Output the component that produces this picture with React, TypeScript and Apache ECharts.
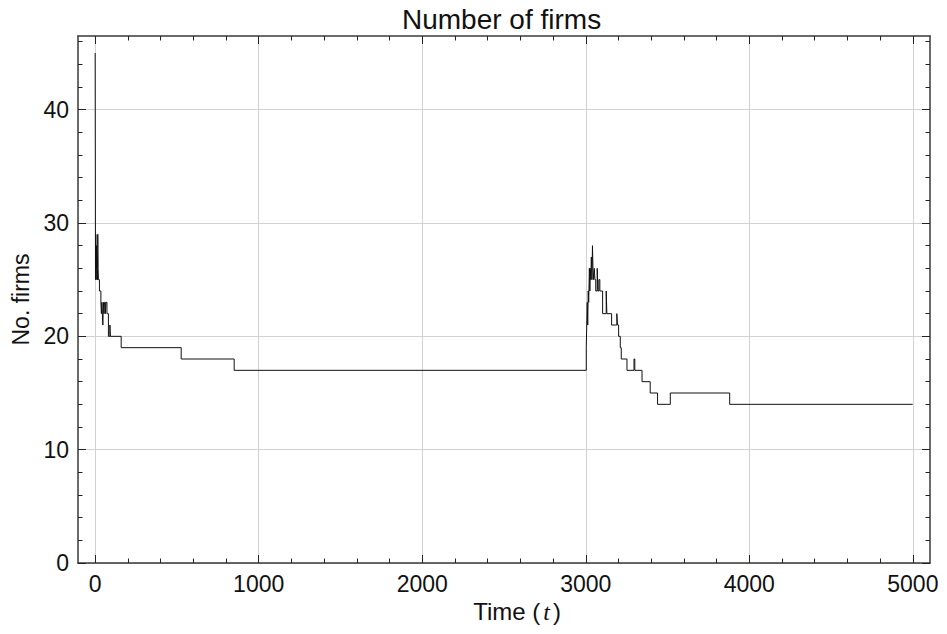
import React, { useEffect, useRef } from "react";
import * as echarts from "echarts";

// Firm count changes: each count holds from its time until the next time.
const STEP_TIMES = [
  0, 2, 4, 6, 8, 10, 12, 14, 16, 18, 20, 26, 35, 38, 41, 44, 47, 50, 54, 57,
  62, 66, 72, 81, 90, 93, 159, 526, 850,
  3003, 3006, 3009, 3012, 3015, 3018, 3022, 3025, 3028, 3031, 3034, 3038,
  3041, 3044, 3048, 3052, 3056, 3061, 3070, 3074, 3080, 3086, 3103, 3125,
  3129, 3158, 3190, 3194, 3201, 3211, 3217, 3252, 3295, 3300, 3344, 3394,
  3439, 3517, 3880, 4999,
];
const FIRM_COUNTS = [
  45, 25, 29, 26, 28, 25, 27, 25, 29, 26, 25, 24, 23, 22, 23, 22, 21, 23, 22, 23,
  22, 23, 22, 20, 21, 20, 19, 18, 17,
  19, 21, 23, 21, 24, 23, 26, 24, 26, 25, 27, 25,
  28, 26, 25, 26, 25, 24, 26, 24, 25, 24, 22, 24,
  22, 21, 22, 21, 20, 19, 18, 17, 18, 17, 16, 15,
  14, 15, 14, 14,
];

const X_MIN = -105;
const X_MAX = 5105;
const Y_MIN = 0;
const Y_MAX = 46.5;
const X_MAJOR = [0, 1000, 2000, 3000, 4000, 5000];
const X_MINOR = [
  200, 400, 600, 800, 1200, 1400, 1600, 1800, 2200, 2400, 2600, 2800,
  3200, 3400, 3600, 3800, 4200, 4400, 4600, 4800,
];
const Y_MAJOR = [0, 10, 20, 30, 40];
const Y_MINOR = [2, 4, 6, 8, 12, 14, 16, 18, 22, 24, 26, 28, 32, 34, 36, 38, 42, 44, 46];

const FONT = '"Liberation Sans", Arial, Helvetica, sans-serif';
const INK = "#111";
const FRAME = { color: "#3a3a3a", width: 1.5 };
const TICK = { color: "#222", width: 1 };
const GRID_LINE = { color: "#d2d2d2", width: 1 };
const plain = (v: number) => String(v);

function xAxisFor(position: "bottom" | "top", major: boolean) {
  const values = major ? X_MAJOR : X_MINOR;
  const primary = position === "bottom" && major;
  return {
    type: "value",
    position,
    min: X_MIN,
    max: X_MAX,
    axisLine: { show: major, onZero: false, lineStyle: FRAME },
    axisTick: {
      show: true,
      inside: true,
      length: major ? 8 : 4.5,
      customValues: values,
      lineStyle: TICK,
    },
    axisLabel: primary
      ? {
          show: true,
          customValues: X_MAJOR,
          formatter: plain,
          fontSize: 23,
          color: INK,
          fontFamily: FONT,
          margin: 9,
        }
      : { show: false },
    splitLine: primary ? { show: true, lineStyle: GRID_LINE } : { show: false },
    ...(primary
      ? {
          name: "Time ({it|t})",
          nameLocation: "middle",
          nameGap: 35,
          nameTextStyle: {
            fontSize: 24,
            color: INK,
            fontFamily: FONT,
            padding: [0, 0, 0, 26],
            rich: {
              it: {
                fontSize: 24,
                color: INK,
                fontFamily: '"Liberation Serif", "DejaVu Serif", serif',
                fontStyle: "italic",
                padding: [0, 3, 0, 3],
              },
            },
          },
        }
      : {}),
  };
}

function yAxisFor(position: "left" | "right", major: boolean) {
  const values = major ? Y_MAJOR : Y_MINOR;
  const primary = position === "left" && major;
  return {
    type: "value",
    position,
    min: Y_MIN,
    max: Y_MAX,
    axisLine: { show: major, onZero: false, lineStyle: FRAME },
    axisTick: {
      show: true,
      inside: true,
      length: major ? 8 : 4.5,
      customValues: values,
      lineStyle: TICK,
    },
    axisLabel: primary
      ? {
          show: true,
          customValues: Y_MAJOR,
          formatter: plain,
          fontSize: 23,
          color: INK,
          fontFamily: FONT,
          margin: 9,
        }
      : { show: false },
    splitLine: primary ? { show: true, lineStyle: GRID_LINE } : { show: false },
    ...(primary
      ? {
          name: "No. firms",
          nameLocation: "middle",
          nameGap: 38,
          nameTextStyle: { fontSize: 23, color: INK, fontFamily: FONT },
        }
      : {}),
  };
}

export default function App() {
  const ref = useRef<HTMLDivElement>(null);

  useEffect(() => {
    if (!ref.current) return;
    const chart = echarts.init(ref.current, null, { renderer: "svg" });
    const data = STEP_TIMES.map((t, i) => [t, FIRM_COUNTS[i]]);

    chart.setOption({
      animation: false,
      backgroundColor: "#ffffff",
      title: {
        text: "Number of firms",
        left: 402,
        top: 5,
        padding: 0,
        textStyle: { fontSize: 28, fontWeight: "normal", color: INK, fontFamily: FONT },
      },
      grid: { left: 78, right: 17, top: 36, bottom: 71, containLabel: false },
      xAxis: [
        xAxisFor("bottom", true),
        xAxisFor("top", true),
        xAxisFor("bottom", false),
        xAxisFor("top", false),
      ],
      yAxis: [
        yAxisFor("left", true),
        yAxisFor("right", true),
        yAxisFor("left", false),
        yAxisFor("right", false),
      ],
      series: [
        {
          type: "line",
          step: "end",
          xAxisIndex: 0,
          yAxisIndex: 0,
          data,
          showSymbol: false,
          symbol: "none",
          lineStyle: { color: INK, width: 1 },
          emphasis: { disabled: true },
        },
      ],
    });

    return () => chart.dispose();
  }, []);

  return (
    <div
      ref={ref}
      style={{ position: "fixed", left: 0, top: 0, width: 947, height: 634, background: "#fff" }}
    />
  );
}
